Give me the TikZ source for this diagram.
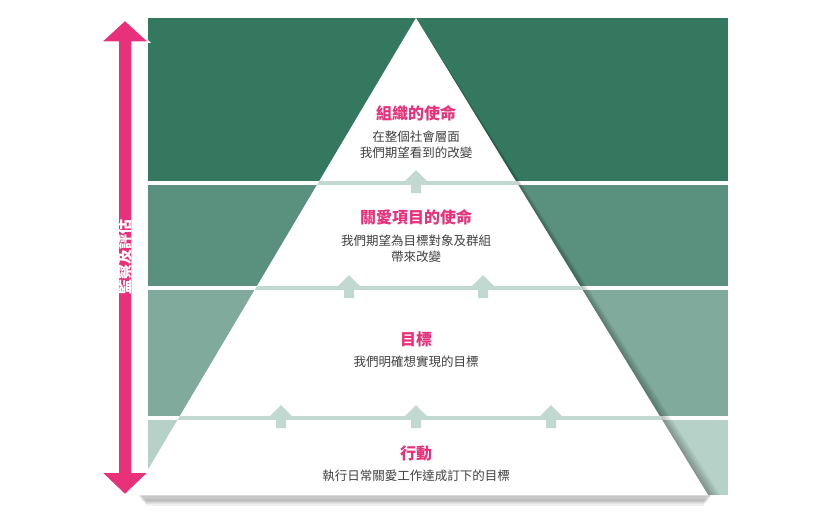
\documentclass[tikz,border=0pt]{standalone}
\usepackage{fontspec}
\setmainfont{Noto Sans CJK TC}
\begin{document}
\begin{tikzpicture}[x=1pt,y=-1pt,
  ttl/.style={text=pinkc,font=\bfseries\fontsize{16}{18}\selectfont,inner sep=0},
  body/.style={text=textc,font=\fontsize{12.5}{16}\selectfont,align=center,inner sep=0},
  uparr/.style={fill=sepc,draw=none}]
\definecolor{b1}{HTML}{357860}\definecolor{b2}{HTML}{5A907E}
\definecolor{b3}{HTML}{80AB9C}\definecolor{b4}{HTML}{B5D1C8}
\definecolor{sepc}{HTML}{C2D9D1}\definecolor{pinkc}{HTML}{E8317A}
\definecolor{textc}{HTML}{404040}
\useasboundingbox (0,0) rectangle (830,515);
% shadow
\foreach \i in {1,...,8}{
  \fill[black,opacity=0.06] (138+\i,492+\i) rectangle (712-\i,496+1.2*\i);}
% bands
\fill[b1] (148,18) rectangle (728,181);
\fill[b2] (148,185) rectangle (728,286);
\fill[b3] (148,290) rectangle (728,416);
\fill[b4] (148,420) rectangle (728,495);
% right-edge shadow
\foreach \i in {1,...,6}{
 \fill[black,opacity=0.05] (416,18) -- (708+2*\i,495) -- (708,495) -- cycle;}
% pyramid
\coordinate (apex) at (416,18);
\coordinate (bl) at (133,495);
\coordinate (br) at (708,495);
\fill[white] (apex) -- (bl) -- (br) -- cycle;
\begin{scope}
\clip (apex) -- (bl) -- (br) -- cycle;
\foreach \y in {183,288,418}{\fill[sepc] (100,\y-2) rectangle (750,\y+2);}
\end{scope}
\foreach \x/\y in {416/183,349/288,483/288,281/418,416/418,551/418}{
  \fill[sepc] (\x-5,\y+10) -- (\x-5,\y-2) -- (\x-11,\y-2) -- (\x,\y-13) -- (\x+11,\y-2) -- (\x+5,\y-2) -- (\x+5,\y+10) -- cycle;}
% texts
\node[ttl] (t1) at (416,113) {組織的使命};
\node[body] (d1) at (416,145) {在整個社會層面\\我們期望看到的改變};
\node[ttl] (t2) at (416,217) {關愛項目的使命};
\node[body] (d2) at (416,249) {我們期望為目標對象及群組\\帶來改變};
\node[ttl] (t3) at (416,339) {目標};
\node[body] (d3) at (416,362) {我們明確想實現的目標};
\node[ttl] (t4) at (416,453) {行動};
\node[body] (d4) at (416,476) {執行日常關愛工作達成訂下的目標};
% pink arrow
\fill[pinkc,draw=white,line width=1.5pt] (118,42) -- (101,42) -- (125,20) -- (149,42) -- (132,42)
  -- (132,472) -- (149,472) -- (125,495) -- (101,472) -- (118,472) -- cycle;
\node[rotate=90,text=white,font=\bfseries\fontsize{15}{15}\selectfont,inner sep=0] (lab) at (125,257) {監察及評估};
\end{tikzpicture}
\end{document}
